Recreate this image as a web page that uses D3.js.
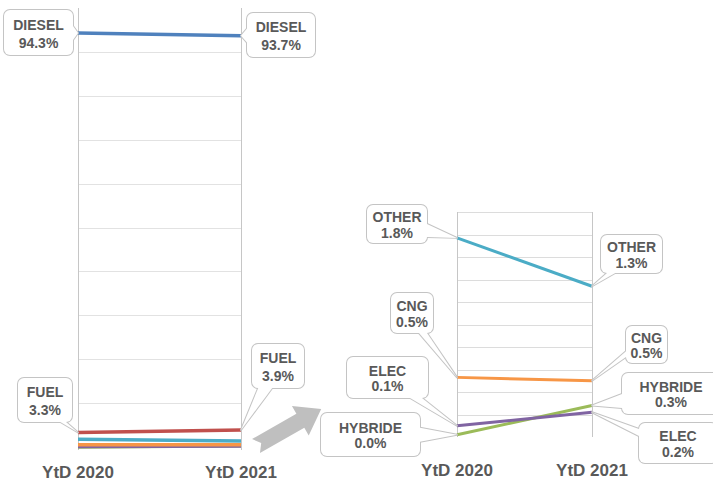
<!DOCTYPE html>
<html>
<head>
<meta charset="utf-8">
<script src="https://cdn.jsdelivr.net/npm/d3@7"></script>
<style>
  body { margin: 0; background: #fff; }
  text { font-family: "Liberation Sans", Arial, sans-serif; font-weight: bold; fill: #595959; }
</style>
</head>
<body>
<div id="chart"></div>
<script>
// data
var years = ["YtD 2020", "YtD 2021"];
var fuels = ["DIESEL", "FUEL", "OTHER", "CNG", "ELEC", "HYBRIDE"];
var ytd2020 = [94.3, 3.3, 1.77, 0.53, 0.10, 0.02];
var ytd2021 = [93.7, 3.9, 1.34, 0.50, 0.22, 0.28];
var fullTicks = [10, 20, 30, 40, 50, 60, 70, 80, 90];
var zoomTicks = [0.2, 0.4, 0.6, 0.8, 1.0, 1.2, 1.4, 1.6, 1.8, 2.0];

// styles
var colors = {DIESEL: "#4f81bd", FUEL: "#c0504d", OTHER: "#4bacc6",
              CNG: "#f79646", ELEC: "#8064a2", HYBRIDE: "#9bbb59"};

var width = 713, height = 483;

var svg = d3.select("#chart").append("svg")
    .attr("width", width)
    .attr("height", height);

// drawn in reverse so the big series end up on top
var series = fuels.map(function(f, i) {
  return {name: f, values: [ytd2020[i], ytd2021[i]]};
}).reverse();

// two panels: full view and zoomed view of the small shares
var panels = {
  full: {
    x: d3.scalePoint().domain(years).range([78, 241]),
    y: d3.scaleLinear().domain([0, 100]).range([447, 8]),
    ticks: fullTicks, series: series, lw: 3.5, lh: 18, labelY: 478
  },
  zoom: {
    x: d3.scalePoint().domain(years).range([457, 592]),
    y: d3.scaleLinear().domain([0, 2]).range([437, 212]),
    ticks: zoomTicks, series: series.slice(0, 4), lw: 3, lh: 15.5, labelY: 476
  }
};

// label boxes (x, y, w, h) - layout only
var callouts = [
  {panel: "full", fuel: "DIESEL", year: 0, box: [4, 10, 69, 45]},
  {panel: "full", fuel: "DIESEL", year: 1, box: [247, 13, 68, 44]},
  {panel: "full", fuel: "FUEL", year: 0, box: [18, 378, 54, 44]},
  {panel: "full", fuel: "FUEL", year: 1, box: [252, 344, 52, 44]},
  {panel: "zoom", fuel: "OTHER", year: 0, box: [367, 205, 60, 38]},
  {panel: "zoom", fuel: "OTHER", year: 1, box: [601, 235, 61, 38]},
  {panel: "zoom", fuel: "CNG", year: 0, box: [391, 293, 42, 40]},
  {panel: "zoom", fuel: "CNG", year: 1, box: [626, 326, 41, 37]},
  {panel: "zoom", fuel: "ELEC", year: 0, box: [347, 357, 81, 41]},
  {panel: "zoom", fuel: "HYBRIDE", year: 0, box: [321, 413, 99, 43]},
  {panel: "zoom", fuel: "HYBRIDE", year: 1, box: [622, 373, 98, 41]},
  {panel: "zoom", fuel: "ELEC", year: 1, box: [639, 423, 78, 40]}
];

Object.keys(panels).forEach(function(key) {
  var p = panels[key];
  var g = svg.append("g").attr("class", "panel-" + key);
  var x0 = p.x(years[0]), x1 = p.x(years[1]);

  // horizontal gridlines
  g.selectAll(".grid").data(p.ticks).enter().append("line")
      .attr("class", "grid")
      .attr("x1", x0).attr("x2", x1)
      .attr("y1", function(d) { return Math.round(p.y(d)) + 0.5; })
      .attr("y2", function(d) { return Math.round(p.y(d)) + 0.5; })
      .attr("stroke", key == "zoom" ? "#dcdcdc" : "#e2e2e2")
      .attr("stroke-width", 1);

  // the two year axes
  g.selectAll(".vaxis").data(years).enter().append("line")
      .attr("class", "vaxis")
      .attr("x1", function(d) { return p.x(d) + 0.5; })
      .attr("x2", function(d) { return p.x(d) + 0.5; })
      .attr("y1", p.y.range()[1])
      .attr("y2", p.y.range()[0] + (key == "full" ? 3 : 0))
      .attr("stroke", "#c6c6c6")
      .attr("stroke-width", 1);

  var line = d3.line()
      .x(function(d, i) { return p.x(years[i]); })
      .y(function(d) { return p.y(d); });

  g.selectAll(".series").data(p.series).enter().append("path")
      .attr("class", "series")
      .attr("d", function(d) { return line(d.values); })
      .attr("fill", "none")
      .attr("stroke", function(d) { return colors[d.name]; })
      .attr("stroke-width", p.lw);

  g.selectAll(".year").data(years).enter().append("text")
      .attr("class", "year")
      .attr("x", function(d) { return p.x(d); })
      .attr("y", p.labelY)
      .attr("text-anchor", "middle")
      .style("font-size", "17px")
      .text(function(d) { return d; });
});

// grey arrow pointing from the full view to the zoomed view
svg.append("polygon")
    .attr("points", [[0, -8], [51, -8], [51, -17], [75, 0], [51, 17], [51, 8], [0, 8], [6, 0]]
      .map(function(d) { return d.join(","); }).join(" "))
    .attr("transform", "translate(256,446) rotate(-29.6)")
    .attr("fill", "#bfbfbf");

function clamp(v, lo, hi) { return Math.max(lo, Math.min(hi, v)); }

// rounded box with a wedge tail pointing at the data point
function drawCallout(c) {
  var p = panels[c.panel];
  var i = fuels.indexOf(c.fuel);
  var v = c.year == 0 ? ytd2020[i] : ytd2021[i];
  var px = p.x(years[c.year]), py = p.y(v);
  var bx = c.box[0], by = c.box[1], bw = c.box[2], bh = c.box[3];
  var r = 6, hw = 7;
  var cx = bx + bw / 2, cy = by + bh / 2, dx = px - cx, dy = py - cy;
  var tx = dx !== 0 ? (bw / 2) / Math.abs(dx) : Infinity;
  var ty = dy !== 0 ? (bh / 2) / Math.abs(dy) : Infinity;
  var b1, b2, ex, ey;
  if (tx < ty) {
    ex = dx > 0 ? bx + bw : bx;
    ey = cy + dy * tx;
    b1 = [ex, clamp(ey - hw, by + r, by + bh - r)];
    b2 = [ex, clamp(ey + hw, by + r, by + bh - r)];
  } else {
    ey = dy > 0 ? by + bh : by;
    ex = cx + dx * ty;
    b1 = [clamp(ex - hw, bx + r, bx + bw - r), ey];
    b2 = [clamp(ex + hw, bx + r, bx + bw - r), ey];
  }
  var tail = "M" + px + "," + py + "L" + b1.join(",") + "L" + b2.join(",") + "Z";

  var g = svg.append("g").attr("class", "callout");
  // outline layer then fill layer, so the outline is of the merged shape
  g.append("path").attr("d", tail)
      .attr("fill", "#fff").attr("stroke", "#c4c4c4").attr("stroke-width", 2)
      .attr("stroke-linejoin", "round");
  g.append("rect").attr("x", bx).attr("y", by).attr("width", bw).attr("height", bh)
      .attr("rx", r).attr("fill", "#fff").attr("stroke", "#c4c4c4").attr("stroke-width", 2);
  g.append("path").attr("d", tail).attr("fill", "#fff");
  g.append("rect").attr("x", bx).attr("y", by).attr("width", bw).attr("height", bh)
      .attr("rx", r).attr("fill", "#fff");

  var t = g.append("text")
      .attr("text-anchor", "middle")
      .style("font-size", "14px");
  var base = cy - p.lh / 2 + 6;
  t.append("tspan").attr("x", cx).attr("y", base).text(c.fuel);
  t.append("tspan").attr("x", cx).attr("y", base + p.lh).text(v.toFixed(1) + "%");
}

callouts.forEach(drawCallout);
</script>
</body>
</html>
